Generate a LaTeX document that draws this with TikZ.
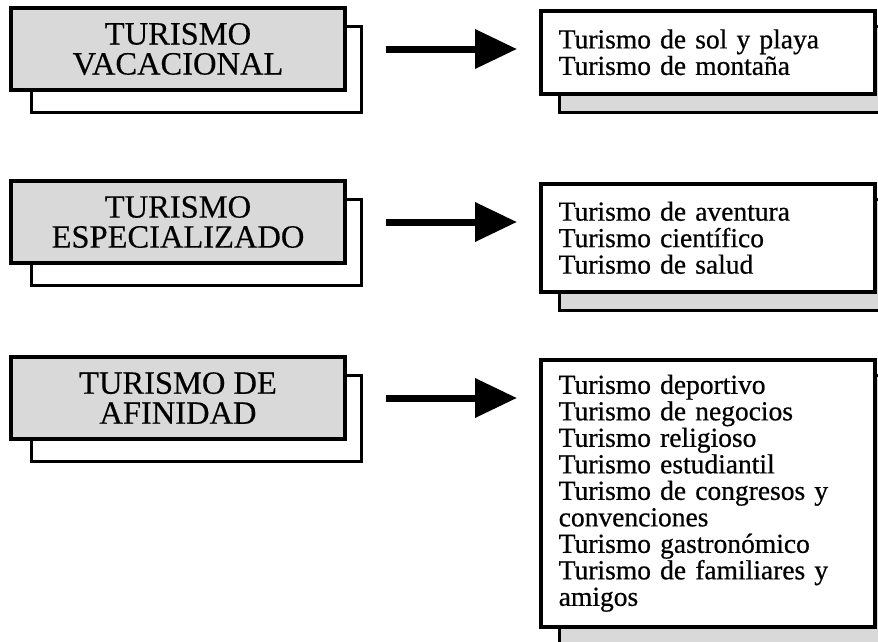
\documentclass[tikz,border=0pt]{standalone}
\usepackage{fontspec}
\setmainfont{Liberation Serif}
\newfontfamily\listafont[FakeBold=0.6]{Liberation Serif}
\newfontfamily\titulofont[FakeBold=0.3]{Liberation Serif}
\usepackage{tikz}
\usetikzlibrary{arrows.meta,backgrounds}

\begin{document}
\begin{tikzpicture}[x=1pt,y=-1pt,
	titulo/.style={draw,line width=3.5pt,fill=black!15,minimum width=334pt,minimum height=82pt,align=center,font=\titulofont\fontsize{32.5}{30}\selectfont},
	atras/.style={draw,line width=3pt,fill=white},
	lista/.style={draw,line width=3.5pt,fill=white,anchor=north west,text width=298pt,inner xsep=18pt,align=left,font=\listafont\fontsize{27.5}{26.5}\selectfont},
	sombra/.style={draw,line width=3pt,fill=black!15},
	flecha/.style={line width=7pt,-{Triangle[length=42pt,width=38pt]}}]
			\useasboundingbox (0,0) rectangle (878,641);
			% Cajas de la izquierda
			\foreach \y/\t/\n in {8/{TURISMO\\VACACIONAL}/a,181/{TURISMO\\ESPECIALIZADO}/b,357/{TURISMO DE\\AFINIDAD}/c}{
			\draw[atras] (31,\y+18) rectangle (361,\y+104);
			\node[titulo] (\n) at (178,\y+41) {\t};
			}
			% Cajas de la derecha
			\node[lista,minimum height=83pt] (r1) at (539,9) {Turismo de sol y playa\\Turismo de monta\~na};
			\node[lista,minimum height=108pt] (r2) at (539,182) {Turismo de aventura\\Turismo cient\'ifico\\Turismo de salud};
			\node[lista,minimum height=267pt] (r3) at (539,358) {Turismo deportivo\\Turismo de negocios\\Turismo religioso\\Turismo estudiantil\\Turismo de congresos y\\convenciones\\Turismo gastron\'omico\\Turismo de familiares y\\amigos};
			\begin{scope}[on background layer]
			\foreach \r in {r1,r2,r3}
			\draw[sombra] ([shift={(20,17)}]\r.north west) rectangle ([shift={(20,17)}]\r.south east);
			\end{scope}
			% Flechas
			\draw[flecha,shorten <=39pt,shorten >=22pt] (a.east) -- (a.east -| r1.west);
			\draw[flecha,shorten <=39pt,shorten >=22pt] (b.east) -- (b.east -| r2.west);
			\draw[flecha,shorten <=39pt,shorten >=22pt] (c.east) -- (c.east -| r3.west);
		\end{tikzpicture}
\end{document}
